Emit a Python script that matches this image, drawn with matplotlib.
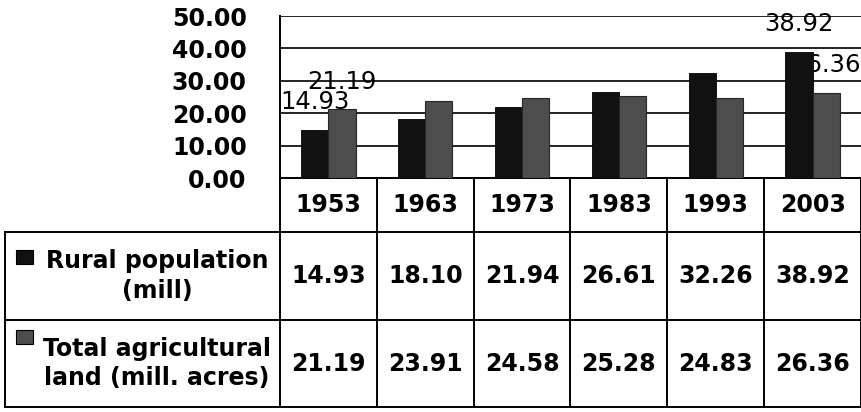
import numpy as np
import matplotlib.pyplot as plt
from matplotlib.patches import Rectangle

# data
years = ['1953', '1963', '1973', '1983', '1993', '2003']
rural_pop = [14.93, 18.10, 21.94, 26.61, 32.26, 38.92]
agri_land = [21.19, 23.91, 24.58, 25.28, 24.83, 26.36]
series_names = ['Rural population\n(mill)', 'Total agricultural\nland (mill. acres)']
labeled_idx = [0, 5]  # only these columns carry data labels in the original

plt.rcParams['font.family'] = ['DejaVu Sans']

W, H = 862, 412
fig = plt.figure(figsize=(W / 100, H / 100), dpi=100)
ax = fig.add_axes([280 / W, 1 - 178 / H, 581 / W, 162 / H])

x = np.arange(len(years))
bw = 0.28
dark = '#111111'
grey = '#4d4d4d'
ax.bar(x - bw / 2, rural_pop, bw, color=dark, edgecolor='#000000', linewidth=0.6, zorder=3)
ax.bar(x + bw / 2, agri_land, bw, color=grey, edgecolor='#262626', linewidth=0.8, zorder=3)

# data labels (floating ~20pt above the bar tops)
for i in labeled_idx:
    for off, vals in ((-bw / 2, rural_pop), (bw / 2, agri_land)):
        ax.annotate(f'{vals[i]:.2f}', (x[i] + off, vals[i]), xytext=(0, 20),
                    textcoords='offset points', ha='center', va='center',
                    fontsize=17.5, color='black', zorder=2, annotation_clip=False)

ax.set_xlim(-0.5, 5.5)
ax.set_ylim(0, 50)
ax.set_yticks(np.arange(0, 51, 10))
ax.set_yticklabels([f'{v:.2f}' for v in np.arange(0, 51, 10)], fontsize=17, fontweight='bold')
ax.tick_params(axis='y', length=0, pad=24)
ax.set_xticks([])
ax.grid(axis='y', color='#222222', linewidth=1.4, zorder=0)
for s in ['top', 'right']:
    ax.spines[s].set_visible(False)
ax.spines['left'].set_linewidth(1.4)
ax.spines['bottom'].set_linewidth(1.4)

# data table below the plot
tr = ax.get_xaxis_transform()
lw = 1.4
x_left = -3.335
row_y = [0.0, -0.333, -0.877, -1.414]
for yy in row_y[1:]:
    ax.plot([x_left, 5.5], [yy, yy], color='black', lw=lw, transform=tr, clip_on=False)
ax.plot([x_left, x_left], [row_y[1], row_y[3]], color='black', lw=lw, transform=tr, clip_on=False)
for xb in np.arange(-0.5, 5.6, 1.0):
    ax.plot([xb, xb], [0, row_y[3]], color='black', lw=lw, transform=tr, clip_on=False)

hdr_y = (row_y[0] + row_y[1]) / 2
for i, yr in enumerate(years):
    ax.text(x[i], hdr_y, yr, transform=tr, ha='center', va='center',
            fontsize=17, fontweight='bold', clip_on=False)

key_off = [0.111, 0.061]
for r, (vals, name, col) in enumerate(zip((rural_pop, agri_land), series_names, (dark, grey))):
    yc = (row_y[r + 1] + row_y[r + 2]) / 2
    for i, v in enumerate(vals):
        ax.text(x[i], yc, f'{v:.2f}', transform=tr, ha='center', va='center',
                fontsize=17, fontweight='bold', clip_on=False)
    ax.text(-1.77, yc, name, transform=tr, ha='center', va='center', multialignment='center',
            fontsize=17, fontweight='bold', linespacing=1.3, clip_on=False)
    # legend key square
    top = row_y[r + 1] - key_off[r]
    ax.add_patch(Rectangle((-3.23, top - 0.085), 0.175, 0.085, transform=tr, facecolor=col,
                           edgecolor='black', lw=0.8, clip_on=False))

fig.savefig('out.png', dpi=100)
